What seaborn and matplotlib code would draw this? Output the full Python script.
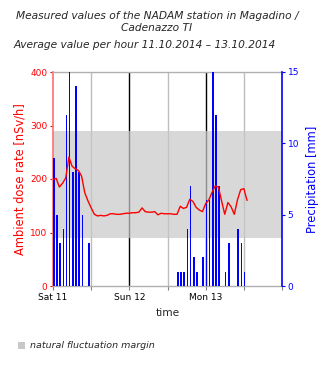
import numpy as np
import pandas as pd
import seaborn as sns
import matplotlib
matplotlib.use("Agg")
import matplotlib.pyplot as plt
from matplotlib.patches import Patch

# ---- data ----
dose_hours = list(range(62))
dose_values = [199, 201, 185, 192, 202, 241, 224, 219, 216, 205, 174, 159, 146, 134, 131, 132,
               131, 132, 135, 135, 134, 134, 135, 136, 136, 137, 137, 138, 146, 139, 138, 138,
               139, 133, 136, 135, 135, 135, 134, 134, 149, 145, 147, 162, 158, 147, 142, 139,
               154, 161, 175, 187, 185, 159, 134, 156, 148, 134, 161, 180, 182, 160]
precip_hours = [0, 1, 2, 3, 4, 5, 6, 7, 8, 9, 11, 39, 40, 41, 42, 43, 44, 45, 47, 48, 49, 50,
                51, 52, 54, 55, 58, 59, 60]
precip_values = [9, 5, 3, 4, 12, 15, 8, 14, 8, 5, 3, 1, 1, 1, 4, 7, 2, 1, 2, 6, 6, 15,
                 12, 7, 1, 3, 4, 3, 1]
band_low, band_high = 90, 290
day_ticks = [0, 24, 48]
day_labels = ["Sat 11", "Sun 12", "Mon 13"]
noon_lines = [12, 36, 60]
dose_ticks = [0, 100, 200, 300, 400]
precip_ticks = [0, 5, 10, 15]

title1 = "Measured values of the NADAM station in Magadino /\nCadenazzo TI"
title2 = "Average value per hour 11.10.2014 \u2013 13.10.2014"

sns.set_theme(style="white")
plt.rcParams['font.family'] = ['DejaVu Sans']

fig = plt.figure(figsize=(3.3, 3.7), dpi=100)
ax = fig.add_axes([53/330, 1-286/370, (282-53)/330, (286-72)/370])
ax_p = ax.twinx()
ax_l = ax.twinx()

ax.set_zorder(0)
ax_p.set_zorder(1)
ax_l.set_zorder(2)
ax_p.patch.set_visible(False)
ax_l.patch.set_visible(False)

# grid lines and band on base axes
for h in noon_lines:
    ax.axvline(h, color="#bdbdbd", lw=1, zorder=1)
for h in day_ticks[1:]:
    ax.axvline(h, color="black", lw=1, zorder=1)
ax.axhspan(band_low, band_high, facecolor=(200/255, 200/255, 200/255), alpha=0.7,
           lw=0, zorder=2)

# precipitation bars
ax_p.bar(precip_hours, precip_values, width=0.5, align="edge", color="#0000ff",
         lw=0, zorder=3)

# dose line
df = pd.DataFrame({"hour": dose_hours, "dose": dose_values})
sns.lineplot(data=df, x="hour", y="dose", ax=ax_l, color="red", lw=1)

for a in (ax, ax_p, ax_l):
    a.set_xlim(0, 72)
ax.set_ylim(0, 400)
ax_l.set_ylim(0, 400)
ax_p.set_ylim(0, 15)

# left axis
ax.set_yticks(dose_ticks)
ax.set_yticklabels([str(t) for t in dose_ticks], color="red", fontsize=6.5)
ax.tick_params(axis="y", colors="red", length=2, width=0.8, pad=2, left=True)
ax.set_ylabel("Ambient dose rate [nSv/h]", color="red", fontsize=8.3, labelpad=3)
ax.set_xticks(day_ticks)
ax.set_xticklabels(day_labels, fontsize=6.5, color="black")
ax.set_xticks(noon_lines + [72], minor=True)
ax.tick_params(axis="x", which="both", bottom=True, length=3, width=0.8,
               color="#808080", pad=2)
ax.set_xlabel("time", fontsize=7.6, labelpad=4)

# right axis
ax_p.set_yticks(precip_ticks)
ax_p.set_yticklabels([str(t) for t in precip_ticks], color="#0000ff", fontsize=6.5)
ax_p.tick_params(axis="y", colors="#0000ff", length=2, width=0.8, pad=2, right=True)
ax_p.set_ylabel("Precipitation [mm]", color="#0000ff", fontsize=8.3, labelpad=5)

ax_l.set_ylabel("")
ax_l.set_xlabel("")
ax_l.set_yticks([])
ax_l.tick_params(axis="x", bottom=False, labelbottom=False)

for a in (ax_p, ax_l):
    for s in a.spines.values():
        s.set_visible(False)
ax_p.spines["right"].set_visible(True)
ax_p.spines["right"].set_color("#0000ff")
ax_p.spines["right"].set_linewidth(1.2)
ax.spines["left"].set_color("#ff7070")
ax.spines["top"].set_color("#b0b0b0")
ax.spines["bottom"].set_color("#b0b0b0")
ax.spines["right"].set_visible(False)
for s in ax.spines.values():
    s.set_linewidth(1)
ax.spines["left"].set_linewidth(1.2)

# titles
fig.text(157/330, 1-11/370, title1, ha="center", va="top", fontsize=7.7,
         style="italic", linespacing=1.25)
fig.text(14/330, 1-45/370, title2, ha="left", va="center", fontsize=7.7,
         style="italic")

# legend
fig.legend(handles=[Patch(facecolor="#c8c8c8", edgecolor="none")],
           labels=["natural fluctuation margin"], loc="center left",
           bbox_to_anchor=(14/330, 1-346/370), frameon=False,
           prop={"size": 6.8, "style": "italic"}, handlelength=0.8,
           handleheight=0.8, handletextpad=0.5, borderaxespad=0)

fig.savefig("out.png", dpi=100)
